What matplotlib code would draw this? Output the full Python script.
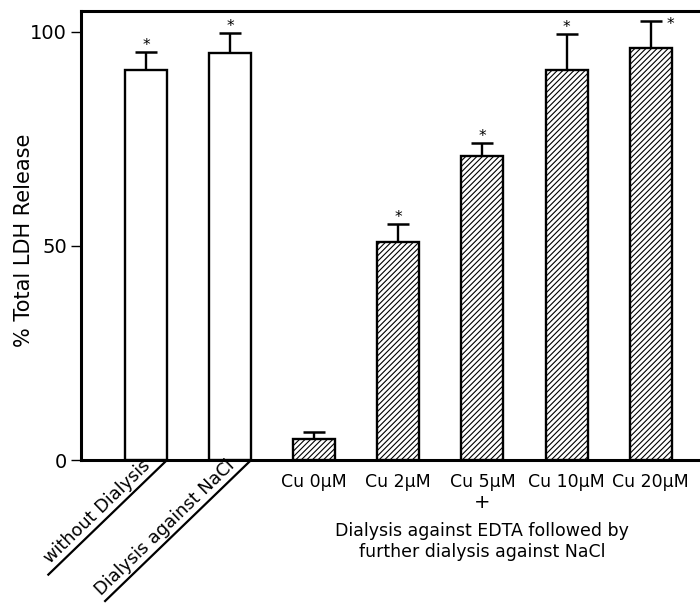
import matplotlib
matplotlib.use('Agg')
import matplotlib.pyplot as plt
from matplotlib.lines import Line2D
import numpy as np

# ---- data ----
categories = ['without Dialysis', 'Dialysis against NaCl', 'Cu 0μM', 'Cu 2μM',
              'Cu 5μM', 'Cu 10μM', 'Cu 20μM']
values = [91.1, 95.1, 4.8, 51.0, 71.1, 91.1, 96.2]
errors = [4.2, 4.7, 1.8, 4.1, 2.9, 8.4, 6.4]
significant = [True, True, False, True, True, True, True]
hatched = [False, False, True, True, True, True, True]
yticks = [0, 50, 100]
group_note = ['Dialysis against EDTA followed by', 'further dialysis against NaCl']
ylabel = '% Total LDH Release'

plt.rcParams['font.family'] = ['DejaVu Sans']
plt.rcParams['hatch.linewidth'] = 0.8
plt.rcParams['hatch.color'] = 'black'

fig = plt.figure(figsize=(7, 6.05), dpi=100)
ax = fig.add_axes([81 / 700, 145 / 605, 619 / 700, 449 / 605])

x = np.arange(len(categories))
ax.set_xlim(-0.773, 6.587)
ax.set_ylim(0, 104.9)

for xi, v, h in zip(x, values, hatched):
    ax.bar(xi, v, width=0.5, facecolor='white', edgecolor='black',
           linewidth=1.7, hatch='//////' if h else None, zorder=3)

ax.errorbar(x, values, yerr=[np.zeros(len(values)), errors], fmt='none',
            ecolor='black', elinewidth=1.7, capsize=8, capthick=1.8, zorder=2)

# significance asterisks
for xi, v, e, s in zip(x, values, errors, significant):
    if not s:
        continue
    top = v + e
    if top > 101:
        ax.annotate('*', xy=(xi, top), xytext=(20, -8), textcoords='offset pixels',
                    ha='center', va='baseline', fontsize=11)
    else:
        ax.annotate('*', xy=(xi, top), xytext=(0, 2), textcoords='offset pixels',
                    ha='center', va='baseline', fontsize=11)

# axes styling
for side in ['left', 'top', 'bottom']:
    ax.spines[side].set_linewidth(2.2)
ax.spines['right'].set_visible(False)
ax.set_xticks([])
ax.set_yticks(yticks)
ax.tick_params(axis='y', direction='out', length=7, width=1, labelsize=14, pad=3)
ax.set_ylabel(ylabel, fontsize=15)
ax.yaxis.set_label_coords(-0.076, 0.49)

# Cu labels
for xi, cat in zip(x[2:], categories[2:]):
    ax.annotate(cat, xy=(xi, 0), xycoords=('data', 'axes fraction'),
                xytext=(0, -27), textcoords='offset pixels',
                ha='center', va='baseline', fontsize=12.5)

ax.annotate('+', xy=(4, 0), xycoords=('data', 'axes fraction'),
            xytext=(0, -48), textcoords='offset pixels',
            ha='center', va='baseline', fontsize=14)
for k, line in enumerate(group_note):
    ax.annotate(line, xy=(4, 0), xycoords=('data', 'axes fraction'),
                xytext=(0, -76 - 21 * k), textcoords='offset pixels',
                ha='center', va='baseline', fontsize=12.5)

# diagonal labels for first two bars
ang = np.deg2rad(44)
d = np.array([-np.cos(ang), -np.sin(ang)])
inv = fig.transFigure.inverted()
for i, L in [(0, 165), (1, 203)]:
    p0 = ax.transData.transform((x[i] + 0.25, 0))
    p1 = p0 + L * d
    f0, f1 = inv.transform([p0, p1])
    fig.add_artist(Line2D([f0[0], f1[0]], [f0[1], f1[1]], transform=fig.transFigure,
                          color='black', lw=1.6))
    pa = p0 + 16 * d + np.array([-1.5, 1.5])
    fa = inv.transform(pa)
    fig.text(fa[0], fa[1], categories[i], rotation=44, rotation_mode='anchor',
             ha='right', va='bottom', fontsize=12.8)

fig.savefig('out.png', dpi=100)
